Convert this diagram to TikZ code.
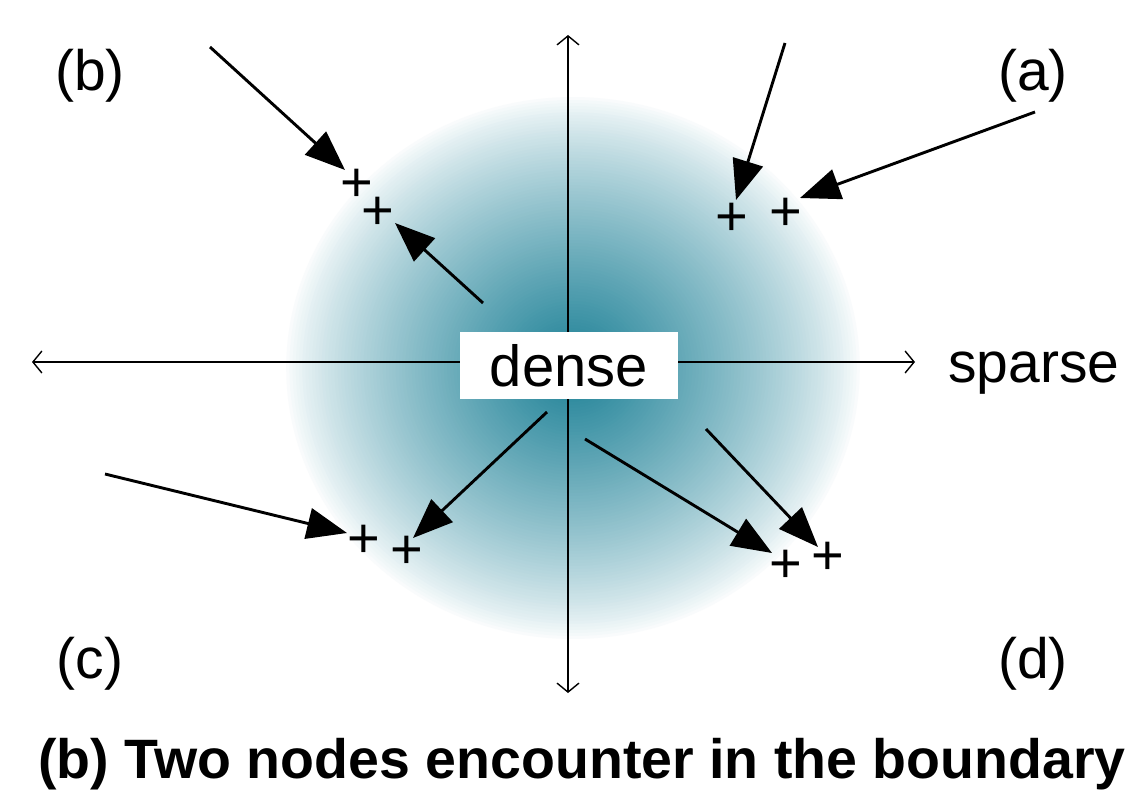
\documentclass[tikz,border=0pt]{standalone}
\usepackage{fontspec}
\setmainfont{Liberation Sans}
\usetikzlibrary{arrows.meta}
\definecolor{tealc}{RGB}{28,128,150}
\tikzset{
  axis/.style={line width=1.4pt, -{Straight Barb[length=9pt,width=22pt]}},
  move/.style={line width=2.9pt, -{Triangle[length=40pt,width=31pt]}},
  lbl/.style={font=\fontsize{57}{60}\selectfont, inner sep=0pt},
  plus/.style={font=\fontsize{56}{60}\selectfont, inner sep=0pt},
  densebox/.style={fill=white, inner sep=0pt, minimum width=218pt, minimum height=67pt, font=\fontsize{58}{60}\selectfont},
  title/.style={font=\fontsize{55.5}{60}\selectfont\bfseries, inner sep=0pt}
}
\begin{document}
\begin{tikzpicture}[x=1pt,y=-1pt]
\useasboundingbox (0,0) rectangle (1133,800);
\coordinate (blobc) at (573,368);
\foreach \i in {0,...,89}{
  \pgfmathsetmacro\rr{1-\i/90}
  \pgfmathsetmacro\pp{100*(1.0001-\rr)^0.8}
  \fill[tealc!\pp!white] (blobc) ellipse [x radius=\rr*290pt, y radius=\rr*274pt];
}
% axes
\coordinate (top) at (568,35);
\coordinate (bot) at (568,693);
\coordinate (lft) at (32,362);
\coordinate (rgt) at (915,362);
\coordinate (ctr) at (568,362);
\draw[axis] (ctr) -- (top);
\draw[axis] (ctr) -- (bot);
\draw[axis] (ctr) -- (lft);
\draw[axis] (ctr) -- (rgt);
\node[densebox] (dense) at (569,365.5) {dense};
\node[lbl, anchor=base west] (sparse) at (948,382) {sparse};
% labels
\node[lbl, anchor=base] (la) at (1033,91) {(a)};
\node[lbl, anchor=base] (lb) at (90,91) {(b)};
\node[lbl, anchor=base] (lc) at (90,678) {(c)};
\node[lbl, anchor=base] (ld) at (1033,678) {(d)};
% pluses
\node[plus] (pb1) at (357,185) {+};
\node[plus] (pb2) at (378,213) {+};
\node[plus] (pa1) at (732,219) {+};
\node[plus] (pa2) at (786,214) {+};
\node[plus] (pc1) at (364,541) {+};
\node[plus] (pc2) at (407,552) {+};
\node[plus] (pd1) at (786,566) {+};
\node[plus] (pd2) at (828,558) {+};
% arrow coordinates
\coordinate (b1s) at (210,47);  \coordinate (b1e) at (345,170);
\coordinate (b2s) at (483,303); \coordinate (b2e) at (395,223);
\coordinate (a1s) at (785,43);  \coordinate (a1e) at (736,200);
\coordinate (a2s) at (1035,112);\coordinate (a2e) at (800,198);
\coordinate (c1s) at (105,474); \coordinate (c1e) at (347,533);
\coordinate (c2s) at (547,412); \coordinate (c2e) at (413,538);
\coordinate (d1s) at (585,439); \coordinate (d1e) at (772,553);
\coordinate (d2s) at (706,429); \coordinate (d2e) at (818,547);
\draw[move] (b1s) -- (b1e);
\draw[move] (b2s) -- (b2e);
\draw[move] (a1s) -- (a1e);
\draw[move] (a2s) -- (a2e);
\draw[move] (c1s) -- (c1e);
\draw[move] (c2s) -- (c2e);
\draw[move] (d1s) -- (d1e);
\draw[move] (d2s) -- (d2e);
% title
\node[title, anchor=base] (cap) at (582,778) {(b) Two nodes encounter in the boundary};
\end{tikzpicture}
\end{document}
